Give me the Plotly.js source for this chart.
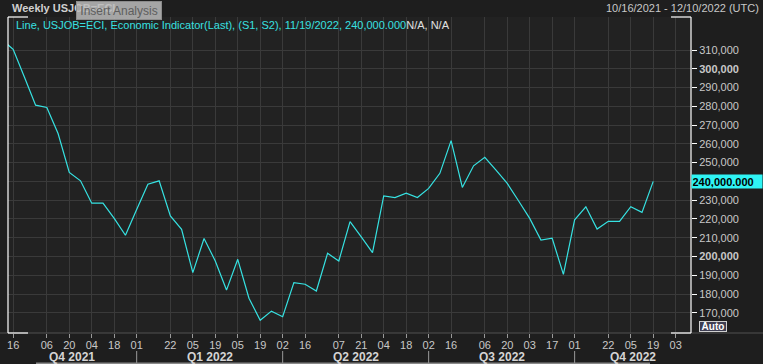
<!DOCTYPE html>
<html>
<head>
<meta charset="utf-8">
<script src="https://cdn.plot.ly/plotly-3.0.1.min.js"></script>
<style>
html,body{margin:0;padding:0;background:#1e1e1e;}
#chart{width:763px;height:364px;}
</style>
</head>
<body>
<div id="chart"></div>
<script>
// ---- data ----
const dates = [
 '2021-10-09','2021-10-16','2021-10-23','2021-10-30','2021-11-06','2021-11-13','2021-11-20','2021-11-27',
 '2021-12-04','2021-12-11','2021-12-18','2021-12-25',
 '2022-01-01','2022-01-08','2022-01-15','2022-01-22','2022-01-29',
 '2022-02-05','2022-02-12','2022-02-19','2022-02-26',
 '2022-03-05','2022-03-12','2022-03-19','2022-03-26',
 '2022-04-02','2022-04-09','2022-04-16','2022-04-23','2022-04-30',
 '2022-05-07','2022-05-14','2022-05-21','2022-05-28',
 '2022-06-04','2022-06-11','2022-06-18','2022-06-25',
 '2022-07-02','2022-07-09','2022-07-16','2022-07-23','2022-07-30',
 '2022-08-06','2022-08-13','2022-08-20','2022-08-27',
 '2022-09-03','2022-09-10','2022-09-17','2022-09-24',
 '2022-10-01','2022-10-08','2022-10-15','2022-10-22','2022-10-29',
 '2022-11-05','2022-11-12','2022-11-19'
];
const claims = [
 315500,310400,295600,280600,279400,265500,244800,240300,
 228400,228400,220300,211300,
 225000,238500,240300,221600,214500,
 191400,209600,197600,182100,
 198500,177800,166000,170900,
 167900,186100,185200,181600,201700,
 197600,218600,210500,202100,
 232300,231400,233700,231400,
 236300,244300,261700,236800,248300,
 252800,246000,238900,229700,
 220300,208800,209700,190500,
 219500,226500,214600,218700,218700,
 226500,223500,240000
];
const tickDates = ['2021-10-16','2021-11-06','2021-11-20','2021-12-04','2021-12-18','2022-01-01','2022-01-22',
 '2022-02-05','2022-02-19','2022-03-05','2022-03-19','2022-04-02','2022-04-16','2022-05-07','2022-05-21',
 '2022-06-04','2022-06-18','2022-07-02','2022-07-16','2022-08-06','2022-08-20','2022-09-03','2022-09-17',
 '2022-10-01','2022-10-22','2022-11-05','2022-11-19','2022-12-03'];
const tickLabels = ['16','06','20','04','18','01','22','05','19','05','19','02','16','07','21','04','18','02','16','06','20','03','17','01','22','05','19','03'];
const yTicks = [170000,180000,190000,200000,210000,220000,230000,240000,250000,260000,270000,280000,290000,300000,310000];
const quarterLabels = ['Q4 2021','Q1 2022','Q2 2022','Q3 2022','Q4 2022'];
const quarterStarts = ['2022-01-01','2022-04-02','2022-07-02','2022-10-01'];
const lastLabel = '240,000.000';
const lastValue = 240000;

// ---- layout helpers ----
const W = 763, H = 364, L = 8, R = 691, T = 17, B = 333;
const xRange = ['2021-10-12 19:00','2022-12-12 13:00'];
const yRange = [159240, 327580];
const px = x => (x - L) / (R - L);
const py = y => (B - y) / (B - T);
const r0 = Date.parse(xRange[0].replace(' ','T')+'Z'), r1 = Date.parse(xRange[1].replace(' ','T')+'Z');
const dpx = d => L + (Date.parse(d+'T00:00:00Z') - r0) / (r1 - r0) * (R - L);

const FONT = 'Liberation Sans, Arial, sans-serif';
const TXT = '#c8c8c8';

// the 240,000 tick label sits under the last-value flag, so it is left blank
const yText = yTicks.map(v => {
  if (v === lastValue) return '';
  const s = v.toLocaleString('en-US');
  return (v === 300000 || v === 200000) ? '<b>' + s + '</b>' : s;
});

const shapes = [];
shapes.push({type:'line', xref:'paper', yref:'paper', x0:px(0), x1:px(W), y0:0, y1:0, line:{color:'#505050', width:1}});
const white = {color:'#ffffff', width:1.2};
shapes.push({type:'line', xref:'paper', yref:'paper', x0:0, x1:0, y0:0, y1:1, line:white});
shapes.push({type:'line', xref:'paper', yref:'paper', x0:1, x1:1, y0:0, y1:1, line:white});
shapes.push({type:'line', xref:'paper', yref:'paper', x0:0, x1:px(28), y0:1, y1:1, line:white});
shapes.push({type:'line', xref:'paper', yref:'paper', x0:px(671), x1:1, y0:1, y1:1, line:white});
shapes.push({type:'line', xref:'paper', yref:'paper', x0:0, x1:px(28), y0:0, y1:0, line:white});
shapes.push({type:'line', xref:'paper', yref:'paper', x0:px(671), x1:1, y0:0, y1:0, line:white});
quarterStarts.forEach(d => {
  const x = dpx(d);
  shapes.push({type:'line', xref:'paper', yref:'paper', x0:px(x), x1:px(x), y0:py(351), y1:py(364), line:{color:'#9a9a9a', width:1}});
});
shapes.push({type:'rect', xref:'paper', yref:'paper', x0:px(36), x1:px(650), y0:py(362.5), y1:py(364.5), fillcolor:'#8a8a8a', line:{width:0}});

const annotations = [];
const bounds = [L].concat(quarterStarts.map(dpx)).concat([R]);
quarterLabels.forEach((q, i) => {
  const c = (bounds[i] + bounds[i+1]) / 2;
  annotations.push({xref:'paper', yref:'paper', x:px(c), y:py(357), xanchor:'center', yanchor:'middle',
    text:'<b>' + q + '</b>', showarrow:false, font:{family:FONT, size:12, color:'#d4d4d4'}});
});
annotations.push({xref:'paper', yref:'paper', x:px(10), y:py(8), xanchor:'left', yanchor:'middle',
  text:'<b>Weekly USJOB=ECI</b>', showarrow:false, font:{family:FONT, size:11, color:'#d0d0d0'}});
annotations.push({xref:'paper', yref:'paper', x:px(118.7), y:py(10.2), xanchor:'center', yanchor:'middle',
  text:'Insert Analysis', showarrow:false, width:84, height:17, borderpad:0, borderwidth:1,
  bordercolor:'#8c8c8c', bgcolor:'rgba(188,188,188,0.86)', font:{family:FONT, size:12, color:'#5e5e5e'}});
annotations.push({xref:'paper', yref:'paper', x:px(761), y:py(8), xanchor:'right', yanchor:'middle',
  text:'10/16/2021 - 12/10/2022 (UTC)', showarrow:false, font:{family:FONT, size:11, color:TXT}});
annotations.push({xref:'paper', yref:'paper', x:px(14), y:py(25), xanchor:'left', yanchor:'middle',
  text:'<span style="color:#38e0e0">Line, USJOB=ECI, Economic Indicator(Last), (S1, S2), 11/19/2022, ' + lastLabel + '</span><span style="color:#e0e0e0">N/A, N/A</span>',
  showarrow:false, font:{family:FONT, size:11, color:'#38e0e0'}});
annotations.push({xref:'paper', yref:'y', x:1, y:lastValue, xanchor:'left', yanchor:'middle',
  text:'<b>' + lastLabel + '</b>', showarrow:false, width:69, height:12, borderpad:0.5, align:'left',
  bgcolor:'#2ff4f4', font:{family:FONT, size:11, color:'#000000'}});
annotations.push({xref:'paper', yref:'paper', x:px(713), y:py(326.8), xanchor:'center', yanchor:'middle',
  text:'<b>Auto</b>', showarrow:false, width:26, height:9, borderpad:0, borderwidth:1,
  bordercolor:'#d0d0d0', bgcolor:'#3e3e52', font:{family:FONT, size:10, color:'#ffffff'}});

const trace = {
  type:'scatter', mode:'lines', x:dates, y:claims,
  line:{color:'#36e2e2', width:1.2}, hoverinfo:'skip', cliponaxis:true
};

const layout = {
  width:W, height:H,
  margin:{l:L, r:W-R, t:T, b:H-B, pad:0},
  paper_bgcolor:'#1e1e1e', plot_bgcolor:'#222222',
  showlegend:false,
  xaxis:{type:'date', range:xRange, tickmode:'array', tickvals:tickDates, ticktext:tickLabels,
    showgrid:true, gridcolor:'#3a3a3a', gridwidth:1, zeroline:false, showline:false,
    ticks:'outside', ticklen:4, tickcolor:'#9a9a9a', tickwidth:1, ticklabelstandoff:-2,
    tickfont:{family:FONT, size:11, color:TXT}, fixedrange:true},
  yaxis:{side:'right', range:yRange, tickmode:'array', tickvals:yTicks, ticktext:yText,
    showgrid:true, gridcolor:'#3a3a3a', gridwidth:1, zeroline:false, showline:false,
    ticks:'outside', ticklen:5, tickcolor:'#ffffff', tickwidth:1,
    tickfont:{family:FONT, size:11, color:TXT}, fixedrange:true},
  shapes:shapes, annotations:annotations
};

Plotly.newPlot('chart', [trace], layout, {displayModeBar:false, staticPlot:true});
</script>
</body>
</html>
